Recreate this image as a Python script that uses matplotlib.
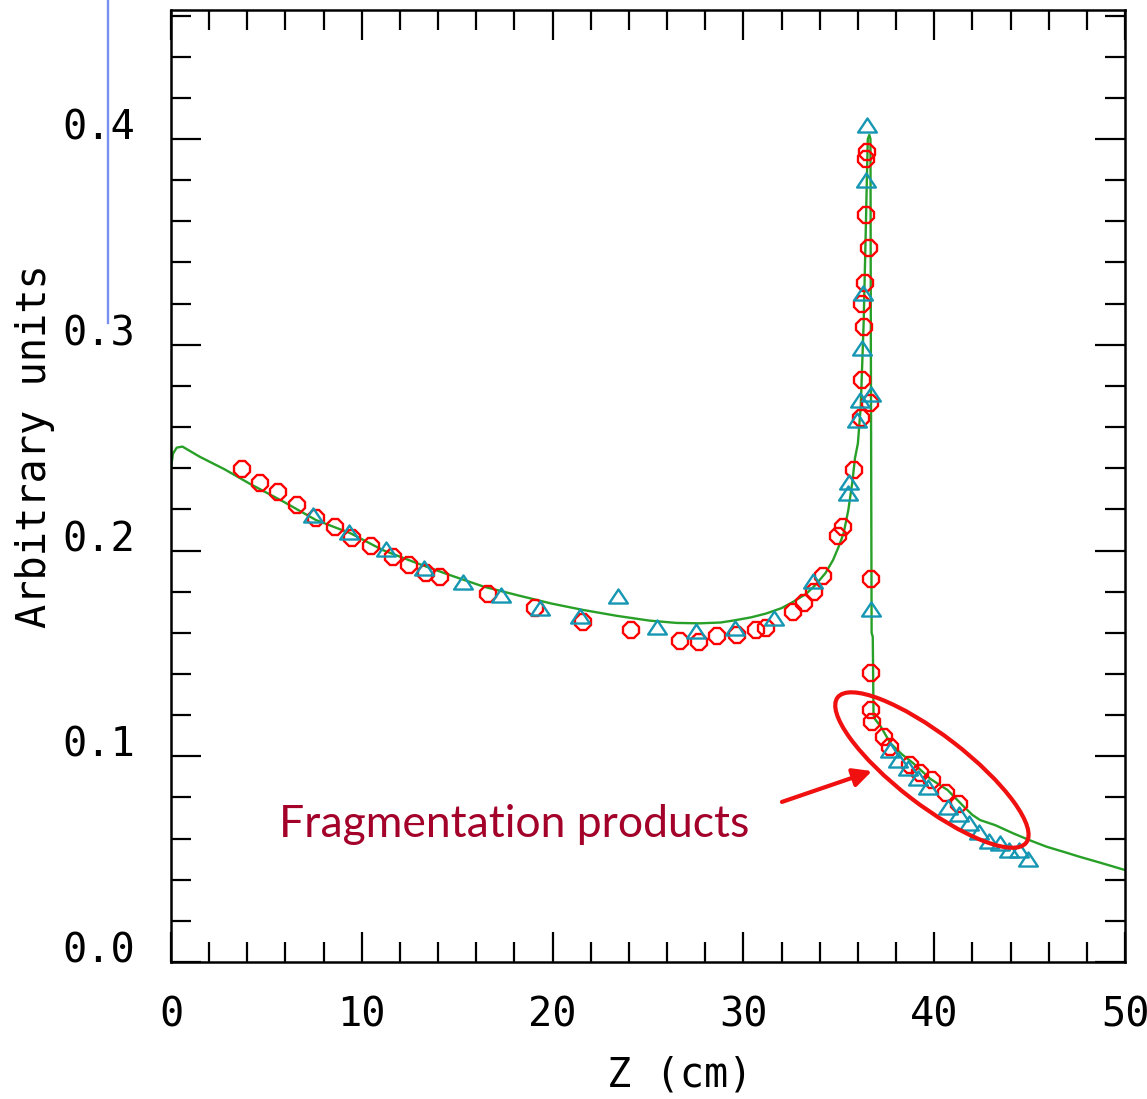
import matplotlib
matplotlib.use("Agg")
import matplotlib.pyplot as plt
import matplotlib.transforms as mtransforms
from matplotlib.patches import Ellipse
from matplotlib.lines import Line2D
from matplotlib.path import Path

# ---------------- data ----------------
mc_z = [0, 0.1, 0.3, 0.6, 1.5, 2.8, 4.1, 5.9, 7.6, 9.4, 11.1, 12.9, 14.6, 16.4,
        18.1, 19.9, 21.6, 23.4, 25.1, 26.5, 27.7, 28.8, 29.5, 30.4, 31.2, 32.0,
        32.6, 33.3, 33.8, 34.3, 34.7, 35.0, 35.25, 35.5, 35.7, 35.85, 36.0,
        36.15, 36.3, 36.4, 36.47, 36.52, 36.6, 36.66, 36.68, 36.72, 36.78,
        36.82, 36.9, 37.2, 37.7, 38.3, 38.9, 39.8, 40.7, 41.5, 42.0, 42.4,
        43.2, 44.1, 45.0, 45.9, 46.8, 47.6, 48.8, 50.0]
mc_y = [0.240, 0.247, 0.2500, 0.2505, 0.2456, 0.2395, 0.2326, 0.2237, 0.2148,
        0.2084, 0.2002, 0.1938, 0.1881, 0.1824, 0.1784, 0.1743, 0.1711, 0.1682,
        0.1659, 0.1648, 0.1646, 0.1650, 0.1660, 0.1675, 0.1694, 0.1720, 0.1750,
        0.1790, 0.1835, 0.1890, 0.1954, 0.2020, 0.2083, 0.2197, 0.2326, 0.2450,
        0.2520, 0.2700, 0.3100, 0.3500, 0.3800, 0.4000, 0.4020, 0.4000, 0.3000,
        0.1600, 0.1580, 0.1200, 0.1180, 0.1144, 0.1064, 0.1010, 0.0966, 0.0890,
        0.0836, 0.0760, 0.0715, 0.0690, 0.0665, 0.0627, 0.0592, 0.0560, 0.0535,
        0.0512, 0.0480, 0.0447]

circ_z = [3.70, 4.66, 5.62, 6.58, 7.60, 8.62, 9.47, 10.46, 11.61, 12.47, 13.39,
          14.09, 16.59, 19.1, 21.57, 24.1, 26.68, 27.67, 28.64, 29.64, 30.66,
          31.21, 32.62, 33.17, 33.69, 34.15, 34.97, 35.2, 35.81, 36.14, 36.63,
          36.21, 36.33, 36.24, 36.39, 36.58, 36.43, 36.43, 36.5, 36.67, 36.67,
          36.67, 36.72, 37.37, 37.68, 38.73, 39.26, 39.86, 40.62, 41.32]
circ_y = [0.2394, 0.2326, 0.2286, 0.2221, 0.2156, 0.2116, 0.2059, 0.2022,
          0.1970, 0.1930, 0.1892, 0.1873, 0.1789, 0.1719, 0.1654, 0.1614,
          0.1562, 0.1553, 0.1584, 0.1589, 0.1614, 0.1621, 0.1700, 0.1743,
          0.1800, 0.1876, 0.2070, 0.2116, 0.2391, 0.2642, 0.2715, 0.2829,
          0.3088, 0.3198, 0.3302, 0.3469, 0.3631, 0.3901, 0.3938, 0.1860,
          0.1406, 0.1225, 0.1168, 0.1092, 0.1046, 0.0957, 0.0920, 0.0885,
          0.0823, 0.0768]

tri_z = [7.46, 9.35, 11.27, 13.26, 15.28, 17.32, 19.34, 21.44, 23.45, 25.48,
         27.54, 29.56, 31.6, 33.66, 35.5, 35.55, 35.98, 36.12, 36.67, 36.2,
         36.29, 36.41, 36.5, 36.67, 37.68, 38.12, 38.64, 39.17, 39.69, 40.74,
         41.32, 41.84, 42.37, 42.89, 43.45, 43.94, 44.46, 44.92]
tri_y = [0.2173, 0.2091, 0.2006, 0.1913, 0.1848, 0.1784, 0.1719, 0.1682,
         0.1779, 0.1630, 0.1609, 0.1621, 0.1670, 0.1853, 0.2278, 0.2334,
         0.2634, 0.2731, 0.2763, 0.2982, 0.3250, 0.3800, 0.4068, 0.1714,
         0.1030, 0.0982, 0.0942, 0.0893, 0.0852, 0.0755, 0.0719, 0.0674,
         0.0633, 0.0590, 0.0577, 0.0544, 0.0544, 0.0499]

x_ticks = [0, 10, 20, 30, 40, 50]
x_tick_labels = ["0", "10", "20", "30", "40", "50"]
y_ticks = [0.0, 0.1, 0.2, 0.3, 0.4]
y_tick_labels = ["0.0", "0.1", "0.2", "0.3", "0.4"]

annot_text = "Fragmentation products"
x_label = "Z (cm)"
y_label = "Arbitrary units"

# ---------------- figure ----------------
W, H, DPI = 1147, 1099, 100
fig = plt.figure(figsize=(W / DPI, H / DPI), dpi=DPI)
L, R, B, T = 171, 1125, 962, 10
ax = fig.add_axes([L / W, (H - B) / H, (R - L) / W, (B - T) / H])

ax.set_xlim(0, 50)
ax.set_ylim(0, 0.4627)

green = "#28a028"
red = "#ff0000"
teal = "#1596b2"

ax.plot(mc_z, mc_y, color=green, lw=1.7, zorder=2)
ax.plot(circ_z, circ_y, linestyle="none", marker="8", ms=13, mfc="none",
        mec=red, mew=1.7, zorder=3)
tri_marker = Path([(0, 0.75), (-1, -0.75), (1, -0.75), (0, 0.75)],
                  [Path.MOVETO, Path.LINETO, Path.LINETO, Path.CLOSEPOLY])
ax.plot(tri_z, tri_y, linestyle="none", marker=tri_marker, ms=13.5,
        mfc="none", mec=teal, mew=1.7, zorder=4)

# ticks
mono = ["DejaVu Sans Mono"]
ax.set_xticks(x_ticks)
ax.set_xticklabels(x_tick_labels, family=mono, fontsize=29)
ax.set_yticks(y_ticks)
ax.set_yticklabels(y_tick_labels, family=mono, fontsize=29)
ax.set_xticks([v for v in range(0, 51, 2) if v % 10], minor=True)
ax.set_yticks([i * 0.02 for i in range(0, 24) if i % 5], minor=True)
ax.tick_params(which="both", direction="in", top=True, right=True, width=1.6,
               color="black")
ax.tick_params(which="major", length=21.5)
ax.tick_params(which="minor", length=14.5)
ax.tick_params(axis="y", which="major", pad=26)
ax.tick_params(axis="x", which="major", pad=24)
for s in ax.spines.values():
    s.set_linewidth(1.8)

offset = mtransforms.ScaledTranslation(0, 15 / DPI, fig.dpi_scale_trans)
for lab in ax.get_yticklabels():
    lab.set_transform(lab.get_transform() + offset)

# axis labels
fig.text(35 / W, 1 - 446 / H, y_label, rotation=90, ha="center", va="center",
         family=mono, fontsize=29)
fig.text(680 / W, 1 - 1076 / H, x_label, ha="center", va="center",
         family=mono, fontsize=29)

# annotation text
ax.text(17.98, 0.0608, annot_text, ha="center", va="baseline",
        family=["Lato", "DejaVu Sans"], fontsize=32, color="#a3002a",
        zorder=5)

# arrow
ax.annotate("", xy=(36.74, 0.0928), xytext=(32.02, 0.0778),
            arrowprops=dict(arrowstyle="-|>", color="#f01010", lw=3.0,
                            mutation_scale=28, shrinkA=0, shrinkB=0),
            zorder=5)

# ellipse (drawn in pixel space around a data-space centre)
cx, cy = ax.transData.transform((39.88, 0.0933))
ell = Ellipse((cx, cy), width=2 * 119, height=2 * 35, angle=-37.6,
              transform=mtransforms.IdentityTransform(), fill=False,
              edgecolor="#f01010", lw=3.0, zorder=5)
ax.add_artist(ell)

# stray blue line at top left
fig.add_artist(Line2D([108 / W, 108 / W], [1.0, 1 - 323 / H],
                      transform=fig.transFigure, color="#7a90f0", lw=1.7))

fig.savefig("out.png", dpi=DPI)
